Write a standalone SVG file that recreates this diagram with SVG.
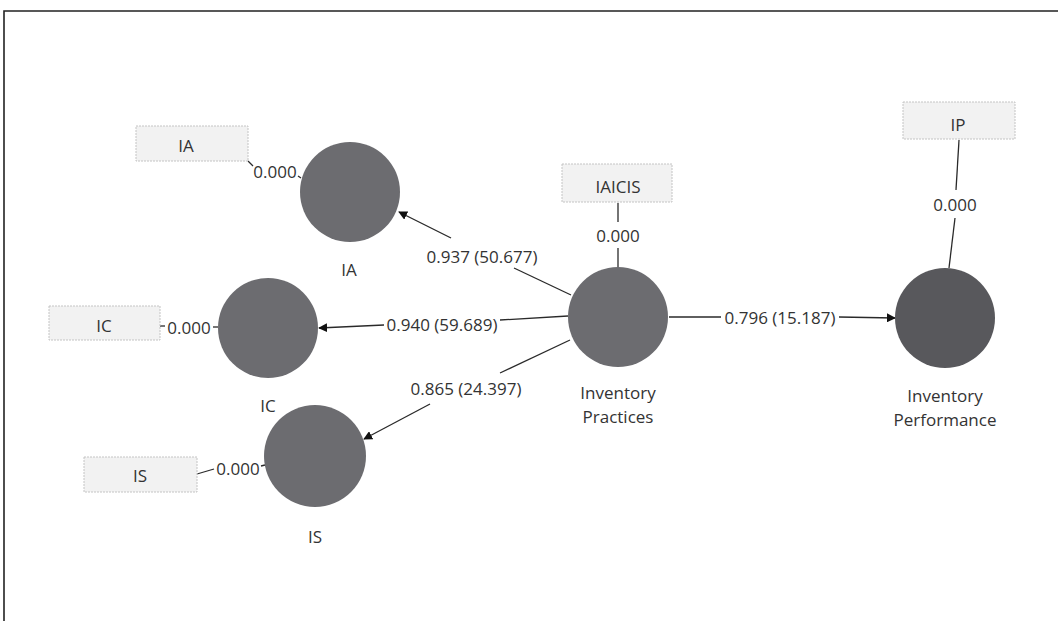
<svg xmlns="http://www.w3.org/2000/svg" width="1058" height="621" viewBox="0 0 1058 621">
<style>
text{font-family:"Open Sans","Noto Sans","Liberation Sans",sans-serif;font-size:17px;fill:#333;text-anchor:middle;dominant-baseline:central}
.lv{fill:#6c6c70}
.lv2{fill:#58585c}
.box{fill:#f2f2f2;stroke:#c4c4c4;stroke-width:1;stroke-dasharray:2 1}
.ln{stroke:#2a2a2a;stroke-width:1.3;fill:none}
</style>
<defs>
<marker id="ah" viewBox="0 0 10 10" refX="9" refY="5" markerWidth="9" markerHeight="9" markerUnits="userSpaceOnUse" orient="auto">
<path d="M0,0 L10,5 L0,10 z" fill="#111"/>
</marker>
</defs>
<rect x="0" y="0" width="1058" height="621" fill="#fff"/>
<path d="M4,621 V11 H1058" fill="none" stroke="#222" stroke-width="1.6"/>
<g id="connectors">
<path class="ln" d="M248,161 L253,166"/>
<path class="ln" d="M298,176 L301,178"/>
<path class="ln" d="M160,326 L165,326"/>
<path class="ln" d="M213,327 L218,327"/>
<path class="ln" d="M197,474 L214,469"/>
<path class="ln" d="M261,466 L265,465"/>
<path class="ln" d="M618,203 L618,222"/>
<path class="ln" d="M618,248 L618,267"/>
<path class="ln" d="M959,140 L956,190"/>
<path class="ln" d="M955,218 L949,268"/>
<path class="ln" d="M571,295 L514,268"/>
<path class="ln" d="M451,238 L399,212" marker-end="url(#ah)"/>
<path class="ln" d="M568,316 L500,320"/>
<path class="ln" d="M384,325 L319,328" marker-end="url(#ah)"/>
<path class="ln" d="M570,340 L500,373"/>
<path class="ln" d="M430,404 L364,439" marker-end="url(#ah)"/>
<path class="ln" d="M669,317 L721,317"/>
<path class="ln" d="M839,317 L895,318" marker-end="url(#ah)"/>
<text x="275" y="171">0.000</text>
<text x="189" y="327">0.000</text>
<text x="238" y="468">0.000</text>
<text x="618" y="235">0.000</text>
<text x="955" y="204">0.000</text>
<text x="482" y="256">0.937 (50.677)</text>
<text x="442" y="324">0.940 (59.689)</text>
<text x="466" y="388">0.865 (24.397)</text>
<text x="780" y="317">0.796 (15.187)</text>
</g>
<g id="box-IA"><rect class="box" x="136" y="126" width="112" height="35"/><text x="186" y="145">IA</text></g>
<g id="box-IC"><rect class="box" x="49" y="306" width="111" height="34"/><text x="104" y="325">IC</text></g>
<g id="box-IS"><rect class="box" x="84" y="457" width="113" height="35"/><text x="140" y="475">IS</text></g>
<g id="box-IAICIS"><rect class="box" x="562" y="164" width="110" height="38"/><text x="618" y="186">IAICIS</text></g>
<g id="box-IP"><rect class="box" x="903" y="102" width="112" height="37"/><text x="958" y="124">IP</text></g>
<g id="node-IA"><circle class="lv" cx="350" cy="192" r="50"/><text x="349" y="269">IA</text></g>
<g id="node-IC"><circle class="lv" cx="268" cy="328" r="50"/><text x="268" y="405">IC</text></g>
<g id="node-IS"><circle class="lv" cx="315" cy="456" r="51"/><text x="315" y="536">IS</text></g>
<g id="node-InventoryPractices"><circle class="lv" cx="618" cy="317" r="50"/><text x="618" y="392">Inventory</text><text x="618" y="416">Practices</text></g>
<g id="node-InventoryPerformance"><circle class="lv2" cx="945" cy="318" r="50"/><text x="945" y="395">Inventory</text><text x="945" y="419">Performance</text></g>
</svg>
